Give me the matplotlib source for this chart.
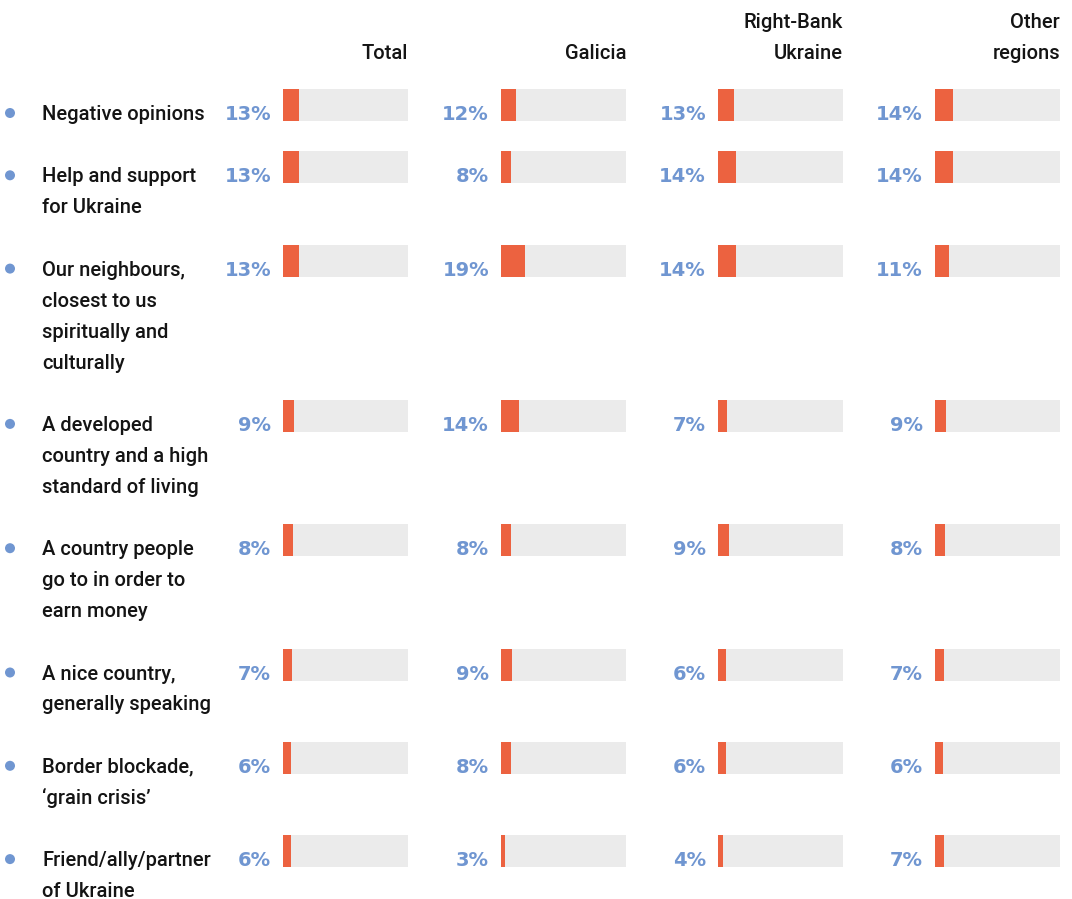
import matplotlib
matplotlib.use('Agg')
import matplotlib.pyplot as plt
from matplotlib.patches import Circle

# 数据
labels = [
    'Negative opinions',
    'Help and support\nfor Ukraine',
    'Our neighbours,\nclosest to us\nspiritually and\nculturally',
    'A developed\ncountry and a high\nstandard of living',
    'A country people\ngo to in order to\nearn money',
    'A nice country,\ngenerally speaking',
    'Border blockade,\n\u2018grain crisis\u2019',
    'Friend/ally/partner\nof Ukraine',
]
columns = ['Total', 'Galicia', 'Right-Bank\nUkraine', 'Other\nregions']
total = [13, 13, 13, 9, 8, 7, 6, 6]
galicia = [12, 8, 19, 14, 8, 9, 8, 3]
right_bank = [13, 14, 14, 7, 9, 6, 6, 4]
other = [14, 14, 11, 9, 8, 7, 6, 7]
series = [total, galicia, right_bank, other]

orange = '#EC6240'
grey = '#EBEBEB'
blue = '#7096D1'
dark = '#141414'

W, H = 1072, 899
fig = plt.figure(figsize=(W / 100, H / 100), dpi=100)

bg = fig.add_axes([0, 0, 1, 1])
bg.set_xlim(0, W)
bg.set_ylim(H, 0)
bg.axis('off')

# 行位置：按标签行数排列
line_h = 31
centers = []
y = 105
for i, lab in enumerate(labels):
    centers.append(y)
    y += line_h * len(lab.split('\n')) + 31.3

label_font = dict(family='Roboto', fontsize=14.5, fontweight='medium', color=dark)
pct_font = dict(family='DejaVu Sans', fontsize=14, fontweight='bold', color=blue)

for c, lab in zip(centers, labels):
    bg.add_patch(Circle((10, c + 8), 5, color=blue, lw=0))
    for k, line in enumerate(lab.split('\n')):
        bg.text(42, c + 15 + k * line_h, line, va='baseline', ha='left', **label_font)

track_x = [283, 501, 718, 935]
track_w = 125
for x0, col, vals in zip(track_x, columns, series):
    ax = fig.add_axes([x0 / W, 0, track_w / W, 1])
    ax.set_xlim(0, 100)
    ax.set_ylim(H, 0)
    ax.axis('off')
    ax.barh(centers, [100] * len(vals), height=32, color=grey, lw=0)
    ax.barh(centers, vals, height=32, color=orange, lw=0)
    for c, v in zip(centers, vals):
        ax.annotate(f'{v}%', xy=(0, c + 15), xytext=(-12, 0), textcoords='offset pixels',
                    ha='right', va='baseline', **pct_font)
    # 列标题
    hl = col.split('\n')
    for k, line in enumerate(hl):
        yb = 59 - (len(hl) - 1 - k) * line_h
        bg.text(x0 + track_w, yb, line, ha='right', va='baseline', **label_font)

fig.savefig('out.png', dpi=100)
